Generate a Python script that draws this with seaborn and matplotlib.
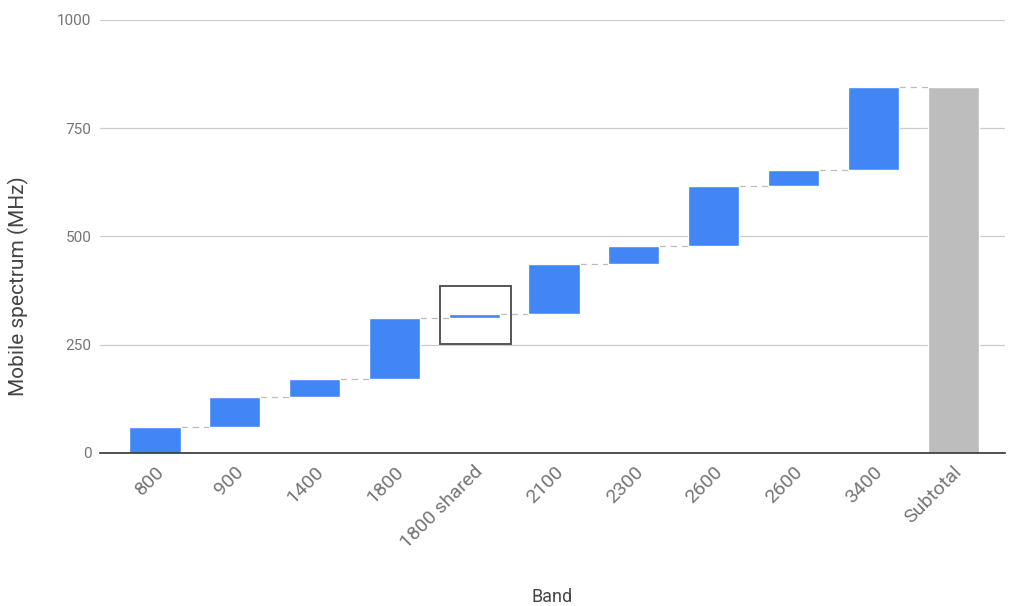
import matplotlib
matplotlib.use("Agg")
import matplotlib.pyplot as plt
from matplotlib.patches import Rectangle
import pandas as pd
import seaborn as sns

# ─────────────── Data ───────────────
bands = ["800", "900", "1400", "1800", "1800 shared", "2100",
         "2300", "2600", "2600", "3400", "Subtotal"]
increments = [60, 70, 40, 142, 8, 117, 40, 140, 37, 191]
y_ticks = [0, 250, 500, 750, 1000]

BLUE = "#4285F4"
GREY = "#BDBDBD"
BAR_W = 0.64

# cumulative levels for the waterfall
tops = []
level = 0
for inc in increments:
    level += inc
    tops.append(level)
bottoms = [0] + tops[:-1] + [0]
heights = increments + [tops[-1]]

df = pd.DataFrame({"pos": range(len(bands)), "height": heights})
colors = [BLUE] * len(increments) + [GREY]

# ─────────────── Plot ───────────────
sns.set_theme(style="white")
plt.rcParams["font.family"] = ["Roboto", "DejaVu Sans"]

fig = plt.figure(figsize=(10.09, 6.06), dpi=100)
ax = fig.add_axes([0.099, 0.2525, 0.897, 0.7145])

sns.barplot(data=df, x="pos", y="height", hue="pos", palette=colors,
            legend=False, width=BAR_W, saturation=1, ax=ax, zorder=2)

# shift each bar up to its waterfall base
for patch, b in zip(ax.patches, bottoms):
    patch.set_y(b)

# dashed connectors between consecutive bars
for i, t in enumerate(tops):
    ax.plot([i + BAR_W / 2, i + 1 - BAR_W / 2], [t, t], color="#BBBBBB",
            lw=0.9, ls=(0, (5, 4)), zorder=1)

# highlight box around the shared 1800 band
ax.add_patch(Rectangle((4 - 0.43, 252), 0.89, 134, fill=False,
                       edgecolor="#555555", lw=1.4, zorder=3))

ax.set_xlim(-0.69, len(bands) - 1 + 0.65)
ax.set_ylim(0, 1000)
ax.set_yticks(y_ticks)
ax.set_yticklabels([str(v) for v in y_ticks], color="#757575", fontsize=11)
ax.set_xticks(range(len(bands)))
ax.set_xticklabels(bands, rotation=45, ha="right", rotation_mode="anchor",
                   color="#757575", fontsize=14)
ax.tick_params(axis="x", pad=7, length=0)
ax.tick_params(axis="y", pad=6, length=0)

ax.yaxis.grid(True, color="#CCCCCC", lw=0.9, zorder=0)
ax.set_axisbelow(True)
for side in ["top", "right", "left"]:
    ax.spines[side].set_visible(False)
ax.spines["bottom"].set_color("#333333")
ax.spines["bottom"].set_linewidth(1.2)

ax.set_xlabel("Band", fontsize=13, color="#444444", labelpad=26)
ax.set_ylabel("Mobile spectrum (MHz)", fontsize=15, color="#444444",
              labelpad=20, y=0.386)

fig.savefig("out.png", dpi=100)
plt.close(fig)
